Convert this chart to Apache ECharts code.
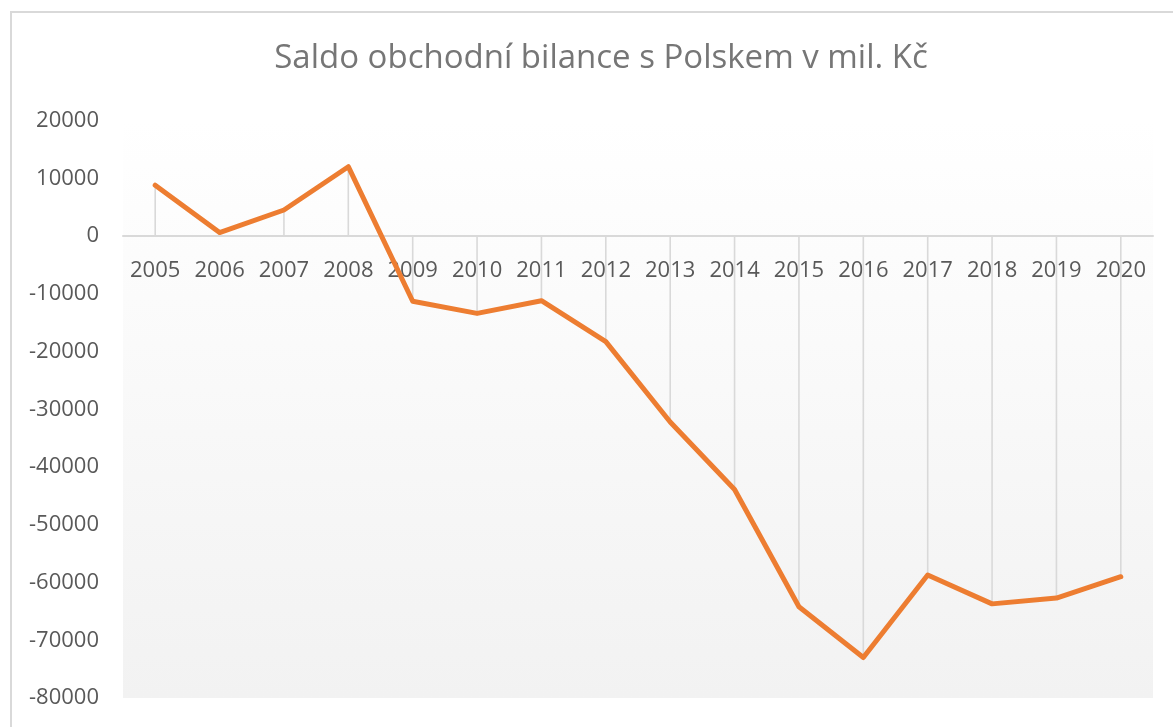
<!DOCTYPE html>
<html>
<head>
<meta charset="utf-8">
<script src="https://cdn.jsdelivr.net/npm/echarts@6/dist/echarts.min.js"></script>
<style>
html,body{margin:0;padding:0;background:#fff;overflow:hidden;}
#frame{position:absolute;left:10px;top:11px;width:1200px;height:760px;border:2px solid #d9d9d9;box-sizing:border-box;}
#chart{position:absolute;left:0;top:0;width:1173px;height:727px;}
</style>
</head>
<body>
<div id="frame"></div>
<div id="chart"></div>
<script>
const titleText = 'Saldo obchodní bilance s Polskem v mil. Kč';
const years = ['2005','2006','2007','2008','2009','2010','2011','2012','2013','2014','2015','2016','2017','2018','2019','2020'];
const saldo = [8800, 600, 4500, 12000, -11300, -13400, -11200, -18300, -32200, -43900, -64200, -73000, -58700, -63700, -62700, -59000];
const yMin = -80000, yMax = 20000, yStep = 10000;

const gridTop = 120.5, gridBottom = 29, H = 727;
const gridHeight = H - gridTop - gridBottom;
const zeroOffset = -gridHeight * (0 - yMin) / (yMax - yMin);

const chart = echarts.init(document.getElementById('chart'), null, {renderer:'canvas'});
const font = '"Open Sans", "Noto Sans", sans-serif';
chart.setOption({
  backgroundColor: 'transparent',
  animation: false,
  title: {
    text: titleText,
    left: 596, top: 37, textAlign: 'center',
    textStyle: {fontFamily: font, fontSize: 33, fontWeight: 'normal', color: '#767676'}
  },
  grid: {
    left: 123, right: 20, top: gridTop, bottom: gridBottom,
    outerBoundsMode: 'none', containLabel: false,
    show: true, borderWidth: 0,
    backgroundColor: new echarts.graphic.LinearGradient(0,0,0,1,[
      {offset:0,color:'#ffffff'},{offset:1,color:'#f2f2f2'}
    ])
  },
  xAxis: {
    type: 'category', data: years, boundaryGap: true, position: 'bottom',
    offset: zeroOffset,
    axisLine: {onZero: false, lineStyle: {color: '#d9d9d9', width: 2}},
    axisTick: {show: false},
    axisLabel: {fontFamily: font, fontSize: 22, color: '#595959', margin: 24,
      interval: 0, hideOverlap: false},
    splitLine: {show: false}
  },
  yAxis: {
    type: 'value', min: yMin, max: yMax, interval: yStep,
    axisLine: {show: false}, axisTick: {show: false}, splitLine: {show: false},
    axisLabel: {fontFamily: font, fontSize: 22, color: '#595959', margin: 24,
      formatter: function(v){ return String(v); }}
  },
  series: [
    {
      type: 'custom', z: 1, silent: true,
      data: saldo.map((v,i)=>[i,v]),
      renderItem: function(params, api){
        const p0 = api.coord([api.value(0), 0]);
        const p1 = api.coord([api.value(0), api.value(1)]);
        return {type:'line', shape:{x1:p0[0],y1:p0[1],x2:p1[0],y2:p1[1]},
                style:{stroke:'#d9d9d9', lineWidth:1.6}};
      }
    },
    {
      type: 'line', z: 3, data: saldo, showSymbol: false, symbol: 'none',
      lineStyle: {color: '#ed7d31', width: 5, cap: 'round', join: 'round'}
    }
  ]
});
</script>
</body>
</html>
